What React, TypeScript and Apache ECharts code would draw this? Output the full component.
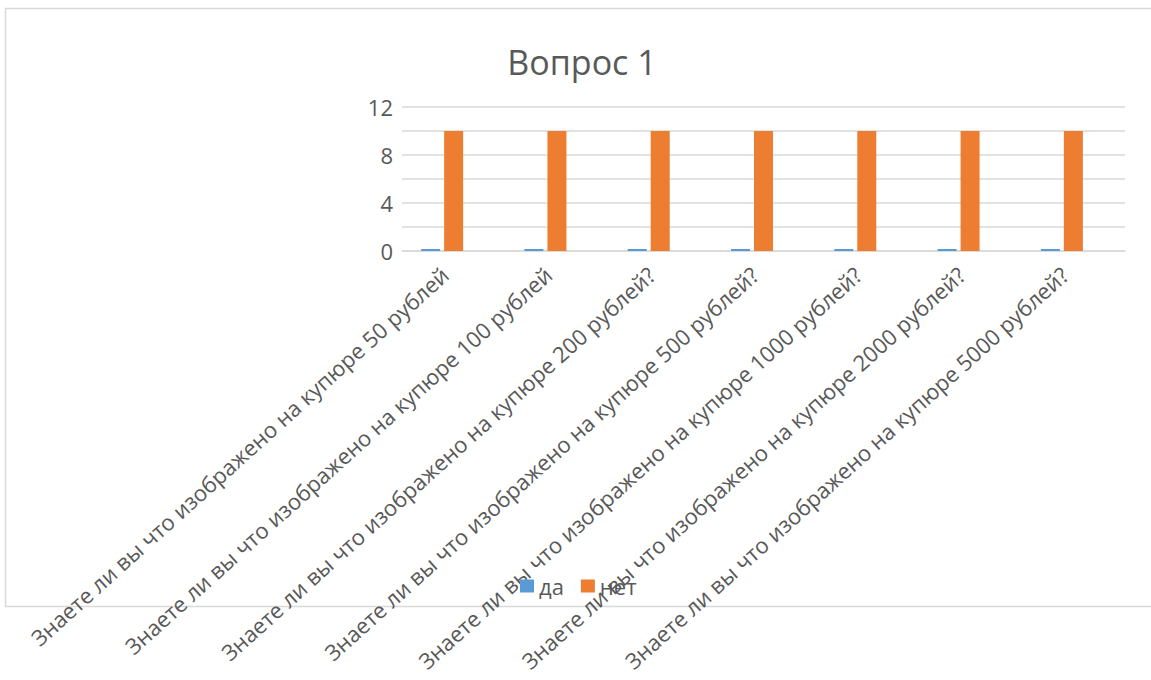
import React, { useEffect, useRef } from "react";
import * as echarts from "echarts";

const categories = [
  "Знаете ли вы что изображено на купюре 50 рублей",
  "Знаете ли вы что изображено на купюре 100 рублей",
  "Знаете ли вы что изображено на купюре 200 рублей?",
  "Знаете ли вы что изображено на купюре 500 рублей?",
  "Знаете ли вы что изображено на купюре 1000 рублей?",
  "Знаете ли вы что изображено на купюре 2000 рублей?",
  "Знаете ли вы что изображено на купюре 5000 рублей?",
];
const daValues = [0, 0, 0, 0, 0, 0, 0];
const netValues = [10, 10, 10, 10, 10, 10, 10];
const emptySeriesValues: (number | null)[] = [null, null, null, null, null, null, null];
const seriesNames = ["да", "нет"];
const titleText = "Вопрос 1";

const FONT = "'Open Sans', 'Noto Sans', sans-serif";
const TEXT = "#595959";

export default function App() {
  const ref = useRef<HTMLDivElement>(null);
  useEffect(() => {
    document.body.style.margin = "0";
    const chart = echarts.init(ref.current!, null, { renderer: "svg" });
    chart.setOption({
      animation: false,
      backgroundColor: "#ffffff",
      textStyle: { fontFamily: FONT, color: TEXT },
      title: {
        text: titleText,
        left: 577,
        textAlign: "center",
        top: 40,
        textStyle: { fontFamily: FONT, fontSize: 34, fontWeight: "normal", color: TEXT },
      },
      graphic: [
        {
          type: "rect",
          shape: { x: 5.5, y: 8.5, width: 1200, height: 598 },
          style: { fill: "none", stroke: "#D9D9D9", lineWidth: 1.5 },
          z: -1,
        },
      ],
      legend: {
        data: seriesNames,
        left: 515,
        top: 570,
        icon: "rect",
        itemWidth: 14,
        itemHeight: 13,
        itemGap: 17,
        textStyle: { fontFamily: FONT, fontSize: 22, color: TEXT },
      },
      grid: { left: 402, right: 26, top: 107, bottom: 429 },
      xAxis: {
        type: "category",
        data: categories,
        axisLine: { show: true, lineStyle: { color: "#D9D9D9", width: 1.5 } },
        axisTick: { show: false },
        axisLabel: {
          interval: 0,
          rotate: 42,
          margin: 12,
          padding: [0, 12, 0, 0],
          fontFamily: FONT,
          fontSize: 22,
          color: TEXT,
        },
      },
      yAxis: {
        type: "value",
        min: 0,
        max: 12,
        interval: 2,
        axisLine: { show: false },
        axisTick: { show: false },
        splitLine: { lineStyle: { color: "#D9D9D9", width: 1.5 } },
        axisLabel: {
          margin: 9,
          fontFamily: FONT,
          fontSize: 22,
          color: TEXT,
          formatter: (v: number) => (v % 4 === 0 ? String(v) : ""),
        },
      },
      series: [
        {
          name: seriesNames[0],
          type: "bar",
          data: daValues,
          barWidth: 19,
          barGap: "21%",
          barMinHeight: 2,
          itemStyle: { color: "#5B9BD5" },
        },
        {
          name: seriesNames[1],
          type: "bar",
          data: netValues,
          barWidth: 19,
          barGap: "21%",
          itemStyle: { color: "#ED7D31" },
        },
        {
          name: "",
          type: "bar",
          data: emptySeriesValues,
          barWidth: 19,
          barGap: "21%",
          itemStyle: { color: "#A5A5A5" },
        },
      ],
    });
    return () => chart.dispose();
  }, []);
  return <div ref={ref} style={{ width: 1151, height: 680 }} />;
}
